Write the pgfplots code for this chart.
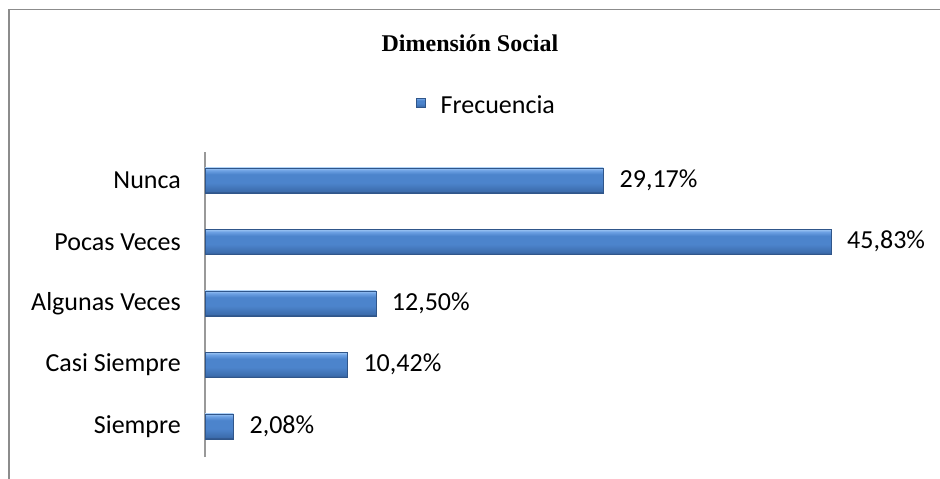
\documentclass[border=0pt]{standalone}
\usepackage{fontspec}
\setmainfont{Carlito}
\newfontfamily\timesfont{Liberation Serif}
\usepackage{pgfplots}
\pgfplotsset{compat=1.18}
\definecolor{barlight}{RGB}{160,200,245}
\definecolor{bartop}{RGB}{110,162,228}
\definecolor{barmid}{RGB}{76,132,204}
\definecolor{barbot}{RGB}{60,108,172}
\definecolor{bardark}{RGB}{40,72,120}
\definecolor{barline}{RGB}{48,86,138}
\definecolor{framegray}{RGB}{140,140,140}
\pgfdeclareverticalshading{barshade}{100bp}{color(0bp)=(bardark); color(25bp)=(bardark); color(28bp)=(barbot); color(45bp)=(barmid); color(62bp)=(barmid); color(70bp)=(bartop); color(75bp)=(barlight); color(100bp)=(barlight)}
\pgfplotsset{onebar/.style={xbar, bar shift=0pt, draw=barline, line width=0.4bp, shading=barshade}}
\begin{document}
\begin{tikzpicture}
\useasboundingbox (0,0) rectangle (940bp,479bp);
\draw[framegray, line width=1.6bp] (9bp,0) -- (9bp,469.5bp) -- (940bp,469.5bp);
\begin{axis}[
  at={(205bp,22bp)}, anchor=south west,
  scale only axis, width=683bp, height=305bp,
  xmin=0, xmax=50, ymin=-0.5, ymax=4.46,
  xbar, bar width=25bp,
  hide x axis,
  axis y line*=left,
  y axis line style={draw=gray!80, line width=1.2bp, -},
  ytick={0,1,2,3,4},
  yticklabels={Siempre, Casi Siempre, Algunas Veces, Pocas Veces, Nunca},
  major tick length=0pt,
  yticklabel style={font=\fontsize{26bp}{30bp}\selectfont, inner sep=0pt, xshift=-24bp, anchor=east},
  title={\timesfont\bfseries Dimensión Social},
  title style={at={(0.388,1.338)}, anchor=center, inner sep=0pt, font=\fontsize{24bp}{28bp}\selectfont},
  legend style={at={(0.411,1.154)}, anchor=center, draw=none, fill=none, inner sep=0pt,
    font=\fontsize{26bp}{30bp}\selectfont, nodes={inner sep=0pt}},
  legend image code/.code={\path[draw=none,fill=none] (0bp,0bp) -- (24bp,0bp);\path[shading=barshade, draw=barline, line width=0.4bp] (0bp,-2bp) rectangle (9bp,7bp);},
  point meta=explicit symbolic,
  nodes near coords,
  nodes near coords style={font=\fontsize{26bp}{30bp}\selectfont, inner sep=0pt, xshift=16bp, anchor=west, text=black},
]
\addplot[onebar] coordinates {(2.08,0) [2,08\%]};
\addlegendentry{Frecuencia}
\addplot[onebar, forget plot] coordinates {(10.42,1) [10,42\%]};
\addplot[onebar, forget plot] coordinates {(12.50,2) [12,50\%]};
\addplot[onebar, forget plot] coordinates {(45.83,3) [45,83\%]};
\addplot[onebar, forget plot] coordinates {(29.17,4) [29,17\%]};
\end{axis}
\end{tikzpicture}
\end{document}
